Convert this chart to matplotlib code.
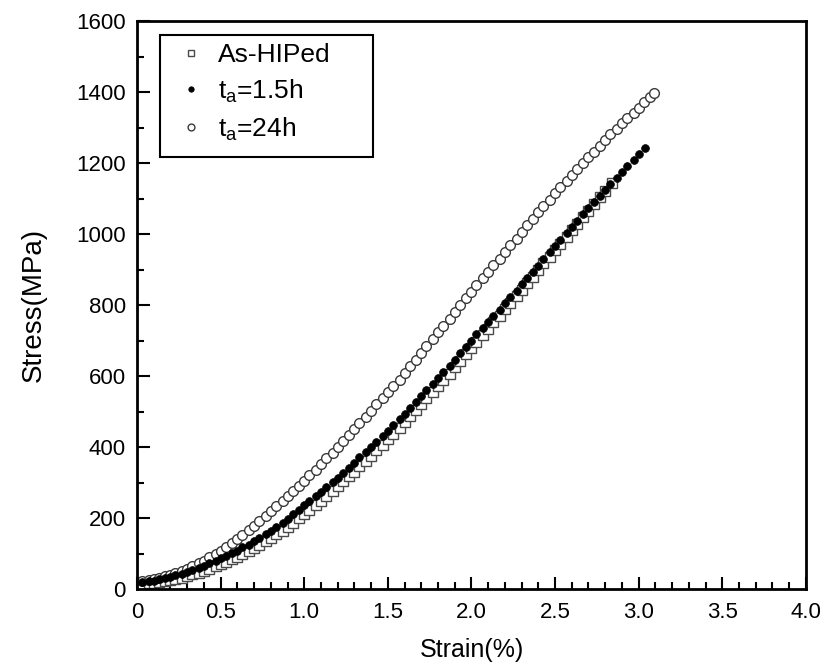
import matplotlib
matplotlib.use("Agg")
import matplotlib.pyplot as plt
from matplotlib.patches import Rectangle

plt.rcParams['font.family'] = ['Liberation Sans', 'DejaVu Sans']
plt.rcParams['mathtext.fontset'] = 'custom'
plt.rcParams['mathtext.rm'] = 'Liberation Sans'
plt.rcParams['mathtext.it'] = 'Liberation Sans'

# ---- data ----
strain_24h = [0.03, 0.07, 0.10, 0.13, 0.17, 0.20, 0.23, 0.27, 0.30, 0.33, 0.37, 0.40,
              0.43, 0.47, 0.50, 0.53, 0.57, 0.60, 0.63, 0.67, 0.70, 0.73, 0.77, 0.80,
              0.83, 0.87, 0.90, 0.93, 0.97, 1.00, 1.03, 1.07, 1.10, 1.13, 1.17, 1.20,
              1.23, 1.27, 1.30, 1.33, 1.37, 1.40, 1.43, 1.47, 1.50, 1.53, 1.57, 1.60,
              1.63, 1.67, 1.70, 1.73, 1.77, 1.80, 1.83, 1.87, 1.90, 1.93, 1.97, 2.00,
              2.03, 2.07, 2.10, 2.13, 2.17, 2.20, 2.23, 2.27, 2.30, 2.33, 2.37, 2.40,
              2.43, 2.47, 2.50, 2.53, 2.57, 2.60, 2.63, 2.67, 2.70, 2.73, 2.77, 2.80,
              2.83, 2.87, 2.90, 2.93, 2.97, 3.00, 3.03, 3.07, 3.09]
stress_24h = [22, 26, 28, 32, 36, 40, 46, 51, 57, 65, 72, 80,
              89, 99, 108, 119, 129, 140, 153, 165, 178, 192, 206, 220,
              234, 248, 262, 276, 291, 305, 321, 336, 352, 368, 384, 400,
              417, 433, 450, 467, 485, 502, 520, 537, 555, 573, 590, 608,
              627, 646, 665, 684, 704, 723, 742, 762, 781, 800, 819, 838,
              857, 875, 894, 913, 931, 950, 969, 987, 1006, 1024, 1043, 1061,
              1079, 1097, 1115, 1132, 1149, 1166, 1183, 1199, 1216, 1232, 1249, 1265,
              1281, 1296, 1312, 1327, 1341, 1356, 1371, 1385, 1396]

strain_15h = [0.03, 0.07, 0.10, 0.13, 0.17, 0.20, 0.23, 0.27, 0.30, 0.33, 0.37, 0.40,
              0.43, 0.47, 0.50, 0.53, 0.57, 0.60, 0.63, 0.67, 0.70, 0.73, 0.77, 0.80,
              0.83, 0.87, 0.90, 0.93, 0.97, 1.00, 1.03, 1.07, 1.10, 1.13, 1.17, 1.20,
              1.23, 1.27, 1.30, 1.33, 1.37, 1.40, 1.43, 1.47, 1.50, 1.53, 1.57, 1.60,
              1.63, 1.67, 1.70, 1.73, 1.77, 1.80, 1.83, 1.87, 1.90, 1.93, 1.97, 2.00,
              2.03, 2.07, 2.10, 2.13, 2.17, 2.20, 2.23, 2.27, 2.30, 2.33, 2.37, 2.40,
              2.43, 2.47, 2.50, 2.53, 2.57, 2.60, 2.63, 2.67, 2.70, 2.73, 2.77, 2.80,
              2.83, 2.87, 2.90, 2.93, 2.97, 3.00, 3.04]
stress_15h = [20, 22, 24, 27, 31, 34, 39, 43, 48, 54, 60, 66,
              73, 79, 86, 93, 101, 108, 117, 125, 134, 144, 154, 164,
              175, 187, 198, 211, 223, 236, 249, 261, 274, 287, 301, 314,
              328, 342, 356, 371, 385, 400, 415, 431, 446, 462, 478, 494,
              510, 527, 543, 560, 577, 594, 611, 629, 646, 664, 681, 699,
              717, 734, 752, 770, 787, 805, 823, 840, 858, 876, 893, 911,
              929, 948, 966, 984, 1002, 1020, 1038, 1055, 1073, 1090, 1108, 1125,
              1142, 1158, 1175, 1191, 1208, 1224, 1243]

strain_hip = [0.03, 0.07, 0.10, 0.13, 0.17, 0.20, 0.23, 0.27, 0.30, 0.33, 0.37, 0.40,
              0.43, 0.47, 0.50, 0.53, 0.57, 0.60, 0.63, 0.67, 0.70, 0.73, 0.77, 0.80,
              0.83, 0.87, 0.90, 0.93, 0.97, 1.00, 1.03, 1.07, 1.10, 1.13, 1.17, 1.20,
              1.23, 1.27, 1.30, 1.33, 1.37, 1.40, 1.43, 1.47, 1.50, 1.53, 1.57, 1.60,
              1.63, 1.67, 1.70, 1.73, 1.77, 1.80, 1.83, 1.87, 1.90, 1.93, 1.97, 2.00,
              2.03, 2.07, 2.10, 2.13, 2.17, 2.20, 2.23, 2.27, 2.30, 2.33, 2.37, 2.40,
              2.43, 2.47, 2.50, 2.53, 2.57, 2.60, 2.63, 2.67, 2.70, 2.73, 2.77, 2.80,
              2.84]
stress_hip = [15, 17, 18, 20, 23, 25, 29, 32, 36, 41, 46, 51,
              57, 64, 70, 77, 84, 91, 99, 107, 115, 124, 134, 143,
              154, 164, 175, 187, 199, 211, 224, 236, 249, 262, 276, 289,
              303, 317, 331, 346, 360, 375, 391, 406, 422, 438, 454, 470,
              487, 503, 520, 537, 555, 572, 590, 607, 625, 643, 661, 679,
              697, 715, 733, 751, 770, 788, 806, 825, 843, 861, 880, 898,
              917, 935, 954, 973, 991, 1010, 1029, 1047, 1066, 1085, 1103, 1122,
              1145]

labels = ['As-HIPed', r'$\mathregular{t_a}$=1.5h', r'$\mathregular{t_a}$=24h']
x_ticks = [0, 0.5, 1.0, 1.5, 2.0, 2.5, 3.0, 3.5, 4.0]
x_ticklabels = ['0', '0.5', '1.0', '1.5', '2.0', '2.5', '3.0', '3.5', '4.0']
y_ticks = [0, 200, 400, 600, 800, 1000, 1200, 1400, 1600]

fig = plt.figure(figsize=(8.24, 6.67), dpi=100)
ax = fig.add_axes([0.1663, 0.1169, 0.8117, 0.8516])

ax.plot(strain_hip, stress_hip, linestyle='none', marker='s', markersize=6.6,
        markerfacecolor='white', markeredgecolor='#4a4a4a', markeredgewidth=1.0,
        label=labels[0], zorder=2)
ax.plot(strain_15h, stress_15h, linestyle='none', marker='o', markersize=5.6,
        markerfacecolor='black', markeredgecolor='black', markeredgewidth=0.5,
        label=labels[1], zorder=3)
ax.plot(strain_24h, stress_24h, linestyle='none', marker='o', markersize=7.0,
        markerfacecolor='white', markeredgecolor='#3a3a3a', markeredgewidth=1.0,
        label=labels[2], zorder=2)

ax.set_xlim(0, 4.0)
ax.set_ylim(0, 1600)
ax.set_xticks(x_ticks)
ax.set_xticklabels(x_ticklabels)
ax.set_yticks(y_ticks)
ax.set_xticks([i / 10 for i in range(41)], minor=True)
ax.set_yticks([i * 100 for i in range(17)], minor=True)

ax.tick_params(which='both', direction='in', top=False, right=False, labelsize=16,
               width=1.5, colors='black')
ax.tick_params(which='major', length=9)
ax.tick_params(axis='x', which='major', pad=9)
ax.tick_params(axis='y', which='major', pad=8)
ax.tick_params(which='minor', length=5)
for s in ax.spines.values():
    s.set_linewidth(2.0)

ax.set_xlabel('Strain(%)', fontsize=18, labelpad=11)
ax.set_ylabel('Stress(MPa)', fontsize=20, labelpad=21)

leg = ax.legend(loc='upper left', bbox_to_anchor=(0.034, 0.975), frameon=False,
                fontsize=19, markerscale=0.7,
                handlelength=1.8, handletextpad=0.1, labelspacing=0.4,
                borderpad=0.3, borderaxespad=0.0)
leg.set_zorder(6)

# legend frame (drawn separately to match the wider box of the reference)
ax.add_patch(Rectangle((0.0344, 0.7606), 0.3184, 0.2148, transform=ax.transAxes,
                       facecolor='white', edgecolor='black', linewidth=1.5, zorder=5))

fig.savefig('out.png', dpi=100)
